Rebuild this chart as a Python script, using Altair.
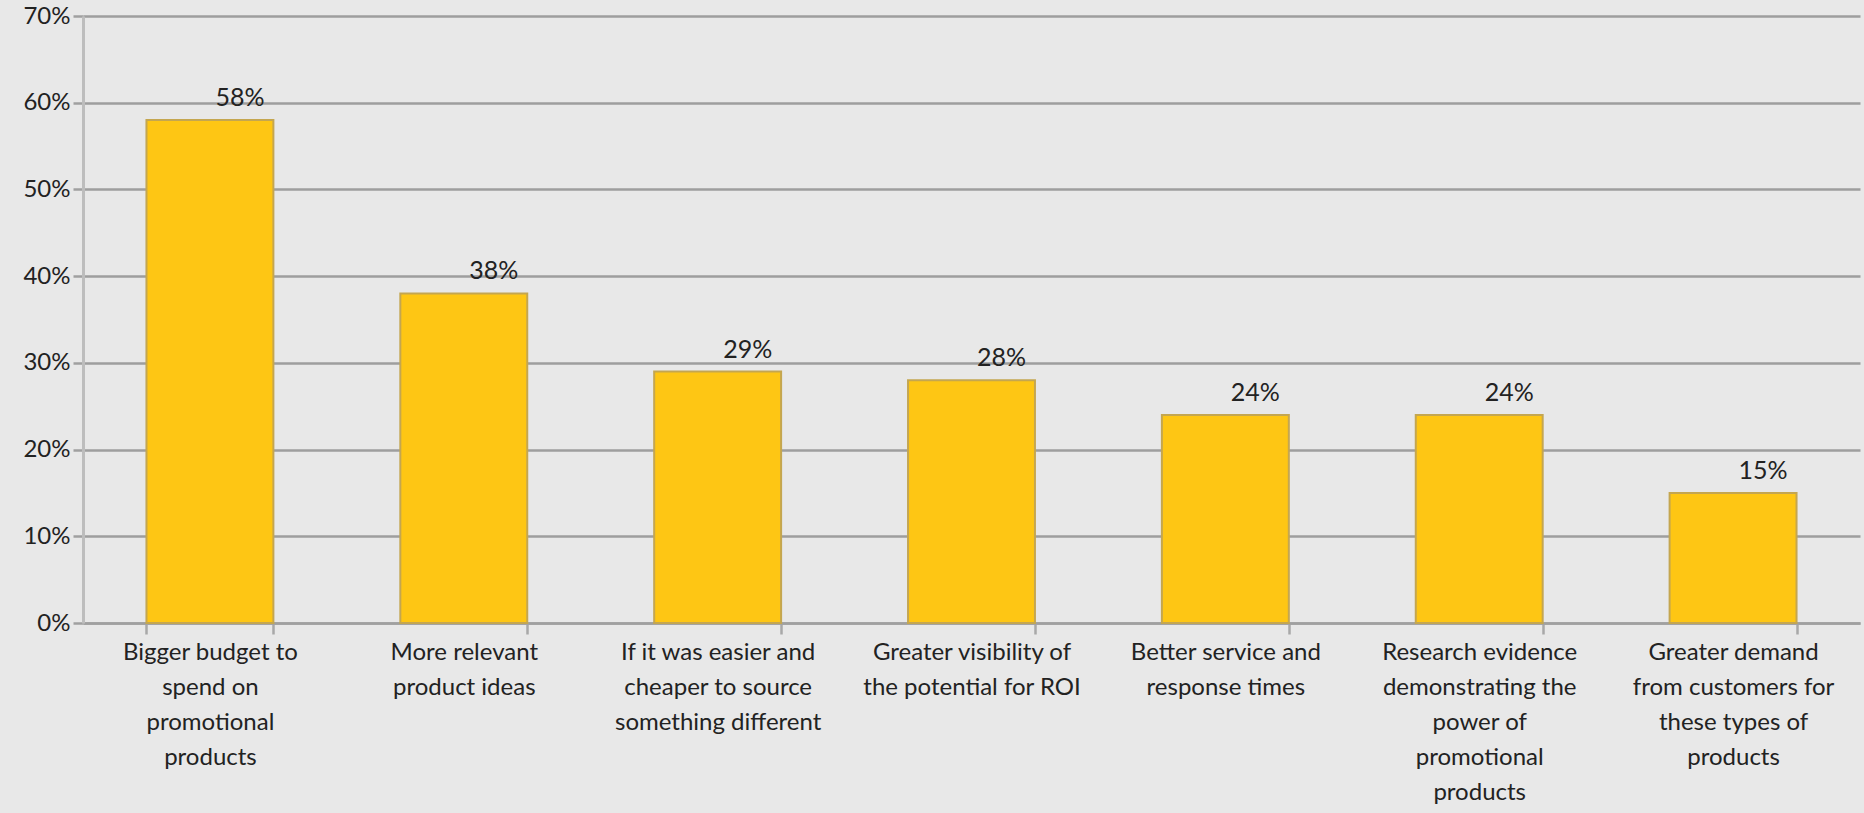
import altair as alt
import pandas as pd

categories = [
    "Bigger budget to\nspend on\npromotional\nproducts",
    "More relevant\nproduct ideas",
    "If it was easier and\ncheaper to source\nsomething different",
    "Greater visibility of\nthe potential for ROI",
    "Better service and\nresponse times",
    "Research evidence\ndemonstrating the\npower of\npromotional\nproducts",
    "Greater demand\nfrom customers for\nthese types of\nproducts",
]
values = [0.58, 0.38, 0.29, 0.28, 0.24, 0.24, 0.15]
y_ticks = [0, 0.1, 0.2, 0.3, 0.4, 0.5, 0.6, 0.7]

df = pd.DataFrame({"cat": categories, "val": values})

FONT = "Lato"
TXT = "#222222"

x = alt.X(
    "cat:N",
    sort=None,
    title=None,
    scale=alt.Scale(paddingInner=0.5, paddingOuter=0.25),
    axis=alt.Axis(
        labelAngle=0,
        labelExpr="split(datum.label, '\\n')",
        labelFont=FONT,
        labelFontSize=24,
        labelColor=TXT,
        labelLineHeight=35,
        labelLimit=0,
        labelPadding=6,
        labelBaseline="top",
        tickBand="extent",
        tickSize=11,
        tickColor="#a8a8a8",
        tickWidth=2.5,
        domainColor="#a0a0a0",
        domainWidth=2.5,
        grid=False,
    ),
)
y = alt.Y(
    "val:Q",
    title=None,
    scale=alt.Scale(domain=[0, 0.7], nice=False),
    axis=alt.Axis(
        values=y_ticks,
        format=".0%",
        labelFont=FONT,
        labelFontSize=24,
        labelColor=TXT,
        labelPadding=3,
        tickSize=10,
        tickColor="#a0a0a0",
        tickWidth=2.5,
        domainColor="#bdbdbd",
        domainWidth=3,
        grid=True,
        gridColor="#9e9e9e",
        gridWidth=2.5,
    ),
)

bars = alt.Chart(df).mark_bar(
    color="#fec614", stroke="#c4a650", strokeWidth=2
).encode(x=x, y=y)

labels = alt.Chart(df).mark_text(
    font=FONT, fontSize=25, color=TXT, baseline="alphabetic", dx=30, dy=-14
).encode(x=x, y=y, text=alt.Text("val:Q", format=".0%"))

chart = (
    alt.layer(bars, labels)
    .properties(
        width=1777,
        height=607,
        background="#e8e8e8",
        autosize=alt.AutoSizeParams(type="none"),
        padding={"left": 83, "top": 16, "right": 4, "bottom": 190},
    )
    .configure_view(stroke=None)
)

chart.save("out.html", embed_options={"renderer": "svg", "actions": False})
